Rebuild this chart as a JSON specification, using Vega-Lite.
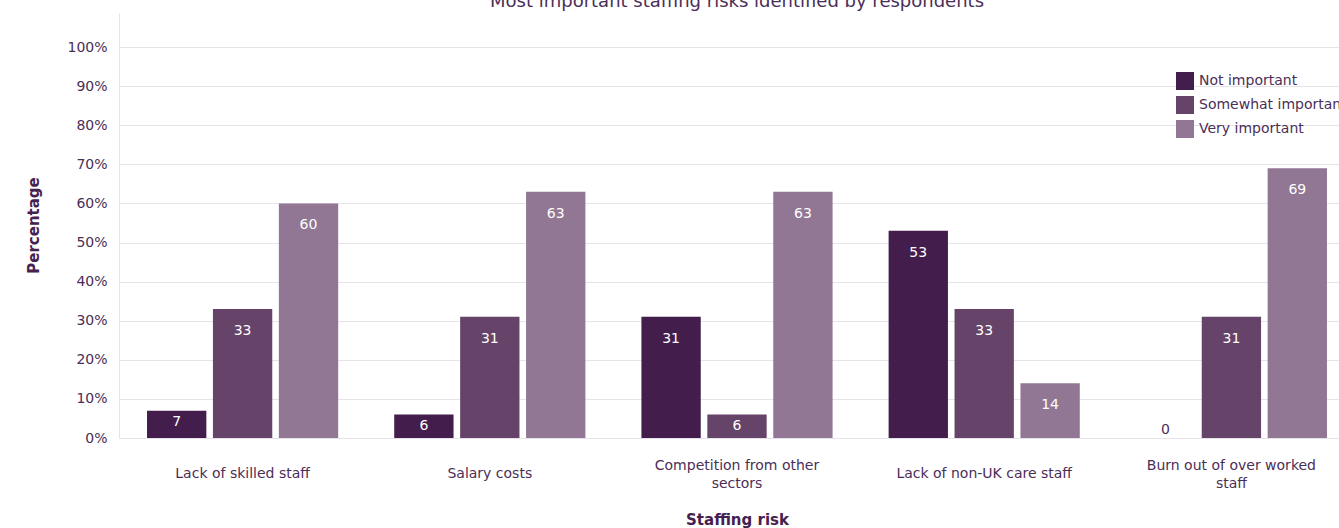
{
  "$schema": "https://vega.github.io/schema/vega-lite/v6.json",
  "autosize": {"type": "none"},
  "padding": {"left": 119, "top": 13, "right": 0, "bottom": 90},
  "width": 1236,
  "height": 425,
  "config": {
    "font": "DejaVu Sans",
    "view": {"stroke": null},
    "axis": {
      "labelFont": "DejaVu Sans",
      "labelFontSize": 14,
      "labelColor": "#4b2e57",
      "titleFont": "DejaVu Sans",
      "titleFontSize": 15,
      "titleFontWeight": "bold",
      "titleColor": "#45214f",
      "gridColor": "#e6e3ea",
      "domainColor": "#e6e3ea",
      "ticks": false
    }
  },
  "title": {
    "text": "Most important staffing risks identified by respondents",
    "fontSize": 18,
    "fontWeight": "normal",
    "color": "#4b2e57",
    "anchor": "middle",
    "frame": "group",
    "baseline": "alphabetic",
    "offset": 0,
    "dy": 12
  },
  "data": {
    "values": [
      {"risk": "Lack of skilled staff", "importance": "Not important", "value": 7},
      {"risk": "Lack of skilled staff", "importance": "Somewhat important", "value": 33},
      {"risk": "Lack of skilled staff", "importance": "Very important", "value": 60},
      {"risk": "Salary costs", "importance": "Not important", "value": 6},
      {"risk": "Salary costs", "importance": "Somewhat important", "value": 31},
      {"risk": "Salary costs", "importance": "Very important", "value": 63},
      {"risk": "Competition from other sectors", "importance": "Not important", "value": 31},
      {"risk": "Competition from other sectors", "importance": "Somewhat important", "value": 6},
      {"risk": "Competition from other sectors", "importance": "Very important", "value": 63},
      {"risk": "Lack of non-UK care staff", "importance": "Not important", "value": 53},
      {"risk": "Lack of non-UK care staff", "importance": "Somewhat important", "value": 33},
      {"risk": "Lack of non-UK care staff", "importance": "Very important", "value": 14},
      {"risk": "Burn out of over worked staff", "importance": "Not important", "value": 0},
      {"risk": "Burn out of over worked staff", "importance": "Somewhat important", "value": 31},
      {"risk": "Burn out of over worked staff", "importance": "Very important", "value": 69}
    ]
  },
  "encoding": {
    "x": {
      "field": "risk",
      "type": "nominal",
      "sort": ["Lack of skilled staff", "Salary costs", "Competition from other sectors", "Lack of non-UK care staff", "Burn out of over worked staff"],
      "scale": {"paddingInner": 0.2, "paddingOuter": 0.1},
      "axis": {
        "title": "Staffing risk",
        "labelAngle": 0,
        "labelBaseline": "middle",
        "labelPadding": {
          "condition": {"test": "datum.value == 'Competition from other sectors' || datum.value == 'Burn out of over worked staff'", "value": 27},
          "value": 35
        },
        "labelLineHeight": 18,
        "labelLimit": 300,
        "labelExpr": "datum.label == 'Competition from other sectors' ? ['Competition from other', 'sectors'] : datum.label == 'Burn out of over worked staff' ? ['Burn out of over worked', 'staff'] : datum.label",
        "titleBaseline": "middle",
        "titleY": 81,
        "grid": false
      }
    },
    "xOffset": {
      "field": "importance",
      "type": "nominal",
      "sort": ["Not important", "Somewhat important", "Very important"],
      "scale": {"paddingInner": 0.1, "paddingOuter": 0.05}
    },
    "y": {
      "field": "value",
      "type": "quantitative",
      "scale": {"domain": [0, 108.7], "nice": false, "zero": true},
      "axis": {
        "title": "Percentage",
        "values": [0, 10, 20, 30, 40, 50, 60, 70, 80, 90, 100],
        "labelExpr": "datum.value + '%'",
        "labelPadding": 12,
        "titleX": -86,
        "titleY": 212,
        "titleBaseline": "middle",
        "grid": true
      }
    }
  },
  "layer": [
    {
      "mark": {"type": "bar"},
      "encoding": {
        "color": {
          "field": "importance",
          "type": "nominal",
          "sort": ["Not important", "Somewhat important", "Very important"],
          "scale": {
            "domain": ["Not important", "Somewhat important", "Very important"],
            "range": ["#431e4c", "#664368", "#917793"]
          },
          "legend": {
            "title": null,
            "orient": "none",
            "legendX": 1057,
            "legendY": 59,
            "symbolType": "square",
            "symbolSize": 324,
            "symbolStrokeWidth": 0,
            "symbolOpacity": 1,
            "labelFontSize": 14,
            "labelFont": "DejaVu Sans",
            "labelColor": "#4b2e57",
            "labelOffset": 5,
            "rowPadding": 6,
            "padding": 0,
            "labelLimit": 300
          }
        }
      }
    },
    {
      "transform": [{"filter": "datum.value >= 10"}],
      "mark": {"type": "text", "color": "white", "fontSize": 14, "baseline": "middle", "dy": 22},
      "encoding": {"text": {"field": "value", "type": "quantitative"}}
    },
    {
      "transform": [{"filter": "datum.value > 0 && datum.value < 10"}],
      "mark": {"type": "text", "color": "white", "fontSize": 14, "baseline": "middle", "dy": 11},
      "encoding": {"text": {"field": "value", "type": "quantitative"}}
    },
    {
      "transform": [{"filter": "datum.value == 0"}],
      "mark": {"type": "text", "color": "#4b2e57", "fontSize": 14, "baseline": "middle", "dy": -8},
      "encoding": {"text": {"field": "value", "type": "quantitative"}}
    }
  ]
}
